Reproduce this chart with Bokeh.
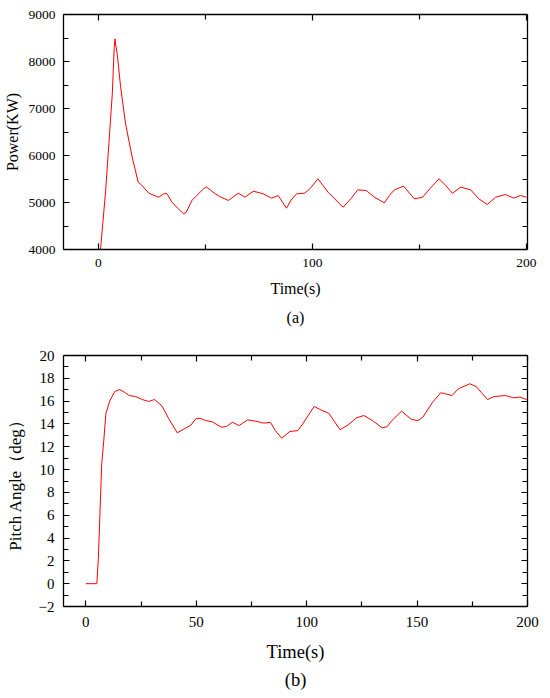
from bokeh.plotting import figure
from bokeh.models import Range1d, FixedTicker, LinearAxis, Title, CustomJSTickFormatter
from bokeh.layouts import column
from bokeh.embed import file_html
from bokeh.resources import INLINE

# ---- data (a) power ----
t_a = [0.8, 1.0, 3.4, 6.5, 7.4, 7.75, 8.1, 8.8, 10.4, 12.7, 15.8, 18.6, 20.0, 23.6, 26.0, 28.2,
       30.5, 32.0, 34.4, 37.0, 39.8, 41.0, 43.7, 46.0, 49.1, 50.5, 54.6, 57.0, 60.8, 63.0, 65.4,
       68.5, 72.4, 77.0, 80.9, 84.0, 87.9, 90.0, 92.6, 96.4, 99.0, 102.6, 107.3, 114.3, 118.0,
       121.2, 125.1, 129.0, 133.6, 136.0, 138.3, 142.6, 147.6, 151.5, 155.0, 159.2, 162.3, 165.4,
       169.3, 173.9, 177.8, 181.7, 185.6, 190.2, 194.1, 197.2, 200.0]
p_a = [3870, 4000, 5255, 7313, 8300, 8483, 8350, 8164, 7453, 6674, 5964, 5432, 5380, 5198, 5150,
       5113, 5185, 5190, 5007, 4880, 4760, 4790, 5043, 5150, 5291, 5330, 5185, 5120, 5043, 5120,
       5198, 5113, 5241, 5185, 5092, 5149, 4879, 5050, 5185, 5198, 5300, 5504, 5220, 4900, 5080,
       5270, 5255, 5113, 4993, 5150, 5270, 5348, 5078, 5113, 5300, 5504, 5362, 5198, 5326, 5270,
       5078, 4957, 5113, 5170, 5092, 5149, 5113]

# ---- data (b) pitch angle ----
t_b = [0, 5, 5.7, 7.2, 7.9, 9.1, 10.9, 13.1, 15.3, 17.5, 19.7, 22.6, 25.6, 28.5, 31.1, 34.4,
       37.6, 41.4, 43.9, 47.6, 49.8, 51.7, 54.2, 57.1, 61.5, 63.7, 66.4, 69.4, 73.3, 77, 80.6,
       83.6, 85.8, 88.7, 92.4, 96, 98.2, 103.4, 107, 110, 115.1, 118.8, 122.5, 125.9, 129.8,
       134.2, 136.4, 138.6, 143, 147.5, 150.4, 152.6, 157, 160.7, 162.9, 165.8, 168.7, 173.9,
       176.8, 179, 181.9, 184.9, 190, 193.7, 196.6, 199.6, 200]
v_b = [0, 0, 2.32, 10.5, 12.0, 14.9, 16.05, 16.84, 17.02, 16.78, 16.49, 16.4, 16.14, 15.97,
       16.14, 15.6, 14.45, 13.22, 13.5, 13.9, 14.45, 14.5, 14.3, 14.2, 13.71, 13.78, 14.15, 13.86,
       14.36, 14.24, 14.07, 14.15, 13.42, 12.75, 13.34, 13.42, 14.0, 15.53, 15.18, 14.94, 13.5,
       13.92, 14.53, 14.74, 14.3, 13.66, 13.75, 14.3, 15.12, 14.39, 14.3, 14.59, 15.9, 16.73,
       16.64, 16.49, 17.08, 17.52, 17.28, 16.78, 16.14, 16.4, 16.49, 16.29, 16.35, 16.14, 16.1]

xt_a_major = [0, 100, 200]
xt_a_minor = [50, 150]
yt_a_major = [4000, 5000, 6000, 7000, 8000, 9000]
yt_a_minor = [4500, 5500, 6500, 7500, 8500]
xt_b_major = [0, 50, 100, 150, 200]
xt_b_minor = [25, 75, 125, 175]
yt_b_major = list(range(-2, 21, 2))
yt_b_minor = list(range(-1, 20, 2))

FONT = "Liberation Serif"
BLANK = "return ''"


def style(ax, fs):
    ax.axis_line_color = "black"
    ax.axis_line_width = 1.3
    ax.major_tick_line_color = "black"
    ax.minor_tick_line_color = "black"
    ax.major_tick_line_width = 1.2
    ax.minor_tick_line_width = 1.2
    ax.major_tick_in = 6
    ax.major_tick_out = 0
    ax.minor_tick_in = 5
    ax.minor_tick_out = 0
    ax.major_label_text_font = FONT
    ax.major_label_text_font_size = fs
    ax.major_label_text_color = "black"
    ax.axis_label_text_font = FONT
    ax.axis_label_text_font_style = "normal"
    ax.axis_label_text_color = "black"


def make(width, height, xr, yr, xmaj, xmin, ymaj, ymin, xlabel, ylabel, tick_fs, xlab_fs,
         ylab_fs, borders, sub, xs, ys, ts):
    p = figure(width=width, height=height, output_backend="svg", toolbar_location=None,
               x_range=Range1d(*xr), y_range=Range1d(*yr),
               min_border_left=borders[0], min_border_right=borders[1],
               min_border_top=borders[2], min_border_bottom=borders[3])
    p.grid.visible = False
    p.outline_line_color = None
    p.background_fill_color = "white"
    p.border_fill_color = "white"
    p.xaxis.ticker = FixedTicker(ticks=xmaj, minor_ticks=xmin)
    p.yaxis.ticker = FixedTicker(ticks=ymaj, minor_ticks=ymin)
    style(p.xaxis[0], tick_fs)
    style(p.yaxis[0], tick_fs)
    p.xaxis.axis_label = xlabel
    p.yaxis.axis_label = ylabel
    p.xaxis.axis_label_text_font_size = xlab_fs
    p.yaxis.axis_label_text_font_size = ylab_fs
    p.xaxis.major_label_standoff = xs[0]
    p.xaxis.axis_label_standoff = xs[1]
    p.yaxis.major_label_standoff = ys[0]
    p.yaxis.axis_label_standoff = ys[1]
    top = LinearAxis(ticker=FixedTicker(ticks=xmaj, minor_ticks=xmin),
                     formatter=CustomJSTickFormatter(code=BLANK))
    right = LinearAxis(ticker=FixedTicker(ticks=ymaj, minor_ticks=ymin),
                       formatter=CustomJSTickFormatter(code=BLANK))
    for ax in (top, right):
        style(ax, "2px")
        ax.major_label_standoff = 0
    p.add_layout(top, "above")
    p.add_layout(right, "right")
    p.add_layout(Title(text=sub, align="center", text_font=FONT, text_font_size=xlab_fs,
                       text_font_style="normal", text_color="black", standoff=ts), "below")
    return p


p1 = make(550, 335, (-16.3, 200.5), (4000, 9000), xt_a_major, xt_a_minor, yt_a_major,
          yt_a_minor, "Time(s)", "Power(KW)", "13.5px", "16px", "16px", (61, 23, 14, 86), "(a)",
          (9, 10), (8, 5), 15)
p1.line(t_a, p_a, line_color="#ff0000", line_width=1)

p2 = make(550, 362, (-10.1, 200), (-2, 20), xt_b_major, xt_b_minor, yt_b_major, yt_b_minor,
          "Time(s)", "Pitch Angle（deg）", "15px", "18.5px", "17px", (54, 19, 20, 91), "(b)",
          (10, 12), (9, 11), 7)
p2.yaxis[0].major_label_overrides = {-2: "\u22122"}
p2.line(t_b, v_b, line_color="#ff0000", line_width=1)

page = column(p1, p2, spacing=0)
open("out.html", "w").write(file_html(page, INLINE))
